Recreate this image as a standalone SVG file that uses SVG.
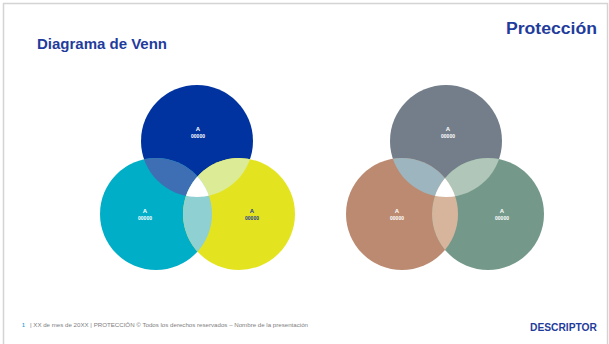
<svg xmlns="http://www.w3.org/2000/svg" width="609" height="344" viewBox="0 0 609 344">
<style>
.hd{font-family:"Liberation Sans",Arial,sans-serif;font-weight:700;fill:#1f3c9c}
.lbA{font-family:"Liberation Sans",Arial,sans-serif;font-weight:700;font-size:6px;text-anchor:middle}
.lbN{font-family:"Liberation Sans",Arial,sans-serif;font-weight:700;font-size:5px;text-anchor:middle}
.w{fill:#ffffff}
.b{fill:#1f3c9c}
.ft{font-family:"Liberation Sans",Arial,sans-serif;font-size:5px;fill:#808080}
</style>
<defs>
<clipPath id="cL1"><circle cx="156" cy="214" r="56"/></clipPath>
<clipPath id="cR1"><circle cx="239" cy="214" r="56"/></clipPath>
<clipPath id="cL2"><circle cx="402" cy="214" r="56"/></clipPath>
<clipPath id="cR2"><circle cx="488" cy="214" r="56"/></clipPath>
</defs>
<rect x="0" y="0" width="609" height="344" fill="#ffffff"/>
<rect x="3.5" y="3.5" width="604" height="360" fill="#ffffff" stroke="#d4d4d4" stroke-width="1.5"/>
<text class="hd" x="37" y="49" font-size="14" textLength="130" lengthAdjust="spacingAndGlyphs">Diagrama de Venn</text>
<text class="hd" x="506" y="34" font-size="16" textLength="91" lengthAdjust="spacingAndGlyphs">Protección</text>

<g id="venn1-top"><circle cx="197" cy="141" r="56" fill="#0033a0"/></g>
<g id="venn1-left"><circle cx="156" cy="214" r="56" fill="#00aec7"/></g>
<g id="venn1-right"><circle cx="239" cy="214" r="56" fill="#e3e41f"/></g>
<g id="venn1-overlaps">
<circle cx="197" cy="141" r="56" fill="#3e6fb5" clip-path="url(#cL1)"/>
<circle cx="197" cy="141" r="56" fill="#dcec96" clip-path="url(#cR1)"/>
<circle cx="156" cy="214" r="56" fill="#8fd0d3" clip-path="url(#cR1)"/>
<g clip-path="url(#cL1)"><circle cx="197" cy="141" r="56" fill="#ffffff" clip-path="url(#cR1)"/></g>
</g>
<g id="venn1-labels">
<text class="lbA w" x="198" y="131">A</text><text class="lbN w" x="198" y="138">00000</text>
<text class="lbA w" x="145" y="213">A</text><text class="lbN w" x="145" y="220">00000</text>
<text class="lbA b" x="252" y="213">A</text><text class="lbN b" x="252" y="220">00000</text>
</g>

<g id="venn2-top"><circle cx="446" cy="141" r="56" fill="#737e8a"/></g>
<g id="venn2-left"><circle cx="402" cy="214" r="56" fill="#bb8a70"/></g>
<g id="venn2-right"><circle cx="488" cy="214" r="56" fill="#74998a"/></g>
<g id="venn2-overlaps">
<circle cx="446" cy="141" r="56" fill="#9db5be" clip-path="url(#cL2)"/>
<circle cx="446" cy="141" r="56" fill="#afc6b8" clip-path="url(#cR2)"/>
<circle cx="402" cy="214" r="56" fill="#d7b59c" clip-path="url(#cR2)"/>
<g clip-path="url(#cL2)"><circle cx="446" cy="141" r="56" fill="#ffffff" clip-path="url(#cR2)"/></g>
</g>
<g id="venn2-labels">
<text class="lbA w" x="448" y="131">A</text><text class="lbN w" x="448" y="138">00000</text>
<text class="lbA w" x="397" y="213">A</text><text class="lbN w" x="397" y="220">00000</text>
<text class="lbA w" x="502" y="213">A</text><text class="lbN w" x="502" y="220">00000</text>
</g>

<g id="footer">
<text class="ft" x="22" y="327" style="fill:#2a9fd6;font-weight:700">1</text>
<text class="ft" x="30" y="327" textLength="278" lengthAdjust="spacingAndGlyphs">| XX de mes de 20XX |  PROTECCIÓN © Todos los derechos reservados  – Nombre de la presentación</text>
<text class="hd" x="530" y="331" font-size="10" textLength="67" lengthAdjust="spacingAndGlyphs">DESCRIPTOR</text>
</g>
</svg>
